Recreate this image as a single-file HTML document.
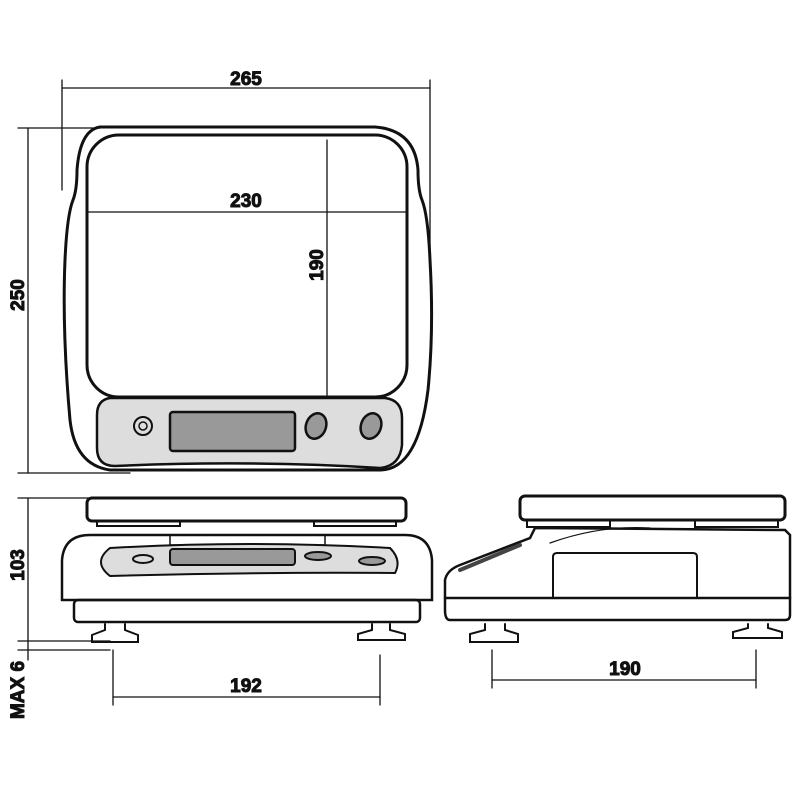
<!DOCTYPE html>
<html><head><meta charset="utf-8"><style>body{margin:0;background:#fff}svg{display:block}text{font-family:"Liberation Sans",sans-serif;font-weight:bold;font-size:19px;fill:#111}</style></head><body>
<svg width="800" height="800" viewBox="0 0 800 800" stroke="#111" fill="none" stroke-linecap="round">
<!-- top view -->
<path d="M100,127 L375,127 Q415,130 418,170 Q418,190 422,200 Q428,215 430,260 Q434,330 428,390 Q418,470 380,470 L110,470 Q75,465 70,420 Q62,330 65,260 Q67,215 73,200 Q77,190 77,170 Q80,130 100,127 Z" stroke-width="3"/>
<rect x="87" y="135" width="320" height="262" rx="32" stroke-width="3"/>
<path d="M110,398 L385,398 Q402,400 402,418 L402,445 Q400,466 380,468 Q250,460 115,466 Q97,466 97,448 L97,415 Q97,400 110,398 Z" fill="#ddd" stroke-width="2.5"/>
<rect x="170" y="412" width="125" height="39" rx="3" fill="#999" stroke-width="2.5"/>
<circle cx="143" cy="426" r="9" stroke-width="2"/><circle cx="143" cy="426" r="4" stroke-width="1.5"/>
<ellipse cx="316" cy="426" rx="10" ry="13" fill="#999" stroke-width="2.5" transform="rotate(20 316 426)"/>
<ellipse cx="371" cy="426" rx="10" ry="13" fill="#999" stroke-width="2.5" transform="rotate(20 371 426)"/>
<g stroke-width="1.3">
<line x1="62" y1="80" x2="62" y2="190"/><line x1="430" y1="80" x2="430" y2="250"/>
<line x1="62" y1="88" x2="430" y2="88"/>
<line x1="88" y1="212" x2="406" y2="212"/>
<line x1="327" y1="140" x2="327" y2="395"/>
<line x1="18" y1="128" x2="100" y2="128"/><line x1="18" y1="473" x2="130" y2="473"/>
<line x1="28" y1="128" x2="28" y2="473"/>
<line x1="18" y1="498" x2="90" y2="498"/><line x1="18" y1="641" x2="110" y2="641"/>
<line x1="28" y1="498" x2="28" y2="641"/>
<line x1="18" y1="650" x2="110" y2="650"/><line x1="28" y1="641" x2="28" y2="660"/>
<line x1="113" y1="650" x2="113" y2="705"/><line x1="380" y1="655" x2="380" y2="705"/>
<line x1="113" y1="697" x2="380" y2="697"/>
<line x1="492" y1="650" x2="492" y2="688"/><line x1="756" y1="650" x2="756" y2="688"/>
<line x1="492" y1="680" x2="756" y2="680"/>
</g>
<text x="246" y="85" text-anchor="middle">265</text>
<text x="246" y="207" text-anchor="middle">230</text>
<text transform="translate(323,265) rotate(-90)" text-anchor="middle">190</text>
<text transform="translate(24,295) rotate(-90)" text-anchor="middle">250</text>
<text transform="translate(24,565) rotate(-90)" text-anchor="middle">103</text>
<text transform="translate(24,690) rotate(-90)" text-anchor="middle">MAX 6</text>
<text x="246" y="692" text-anchor="middle">192</text>
<text x="625" y="675" text-anchor="middle">190</text>
<!-- front view -->
<rect x="87" y="498" width="319" height="23" rx="5" stroke-width="3"/>
<path d="M97,521 L97,526 L180,526 L180,521 M314,521 L314,526 L396,526 L396,521" stroke-width="2"/>
<path d="M62,600 L62,560 Q64,535 90,535 L405,535 Q430,535 432,560 L432,600 Z" stroke-width="2.5"/>
<rect x="170" y="535" width="155" height="10" stroke-width="1.5"/>
<rect x="74" y="600" width="346" height="22" rx="4" stroke-width="2.5"/>
<path d="M110,548 Q250,540 390,548 Q402,560 395,573 Q250,572 110,576 Q92,562 110,548 Z" fill="#ddd" stroke-width="2"/>
<rect x="170" y="549" width="125" height="16" rx="3" fill="#999" stroke-width="2"/>
<ellipse cx="143" cy="559" rx="10" ry="4" stroke-width="2"/>
<ellipse cx="318" cy="556" rx="13" ry="4" fill="#999" stroke-width="2"/>
<ellipse cx="372" cy="561" rx="13" ry="4" fill="#999" stroke-width="2"/>
<path d="M105,624 L105,630 L92,635 L92,642 L138,642 L138,635 L125,630 L125,624" stroke-width="2"/>
<path d="M372,624 L372,630 L358,634 L358,640 L405,640 L405,634 L390,630 L390,624" stroke-width="2"/>
<!-- side view -->
<rect x="520" y="496" width="265" height="24" rx="5" stroke-width="3"/>
<path d="M527,520 L527,527 L610,527 L610,520 M695,520 L695,527 L778,527 L778,520" stroke-width="2"/>
<path d="M535,528 L785,530 L790,535 L790,615 Q790,620 785,620 L450,620 Q445,620 445,610 L445,580 Q447,570 460,565 L530,538 Z" stroke-width="2.5"/>
<line x1="445" y1="598" x2="790" y2="598" stroke-width="2.5"/>
<path d="M553,598 L553,557 Q553,553 557,553 L693,553 Q697,553 697,557 L697,598" stroke-width="2"/>
<path d="M460,570 L520,545" stroke-width="4" stroke="#444"/>
<path d="M550,543 Q600,525 650,528" stroke-width="1.2"/>
<path d="M485,624 L485,630 L470,634 L470,642 L518,642 L518,634 L505,630 L505,624" stroke-width="2"/>
<path d="M748,624 L748,628 L733,632 L733,638 L782,638 L782,632 L768,628 L768,624" stroke-width="2"/>
</svg>
</body></html>
